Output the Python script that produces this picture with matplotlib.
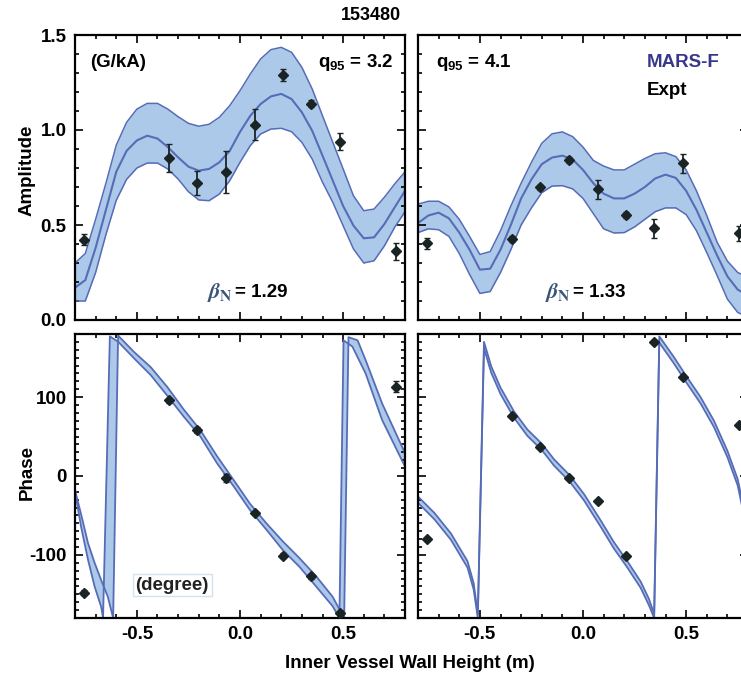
import matplotlib
matplotlib.use("Agg")
import matplotlib.pyplot as plt
from matplotlib.ticker import MultipleLocator
import numpy as np

plt.rcParams['font.family'] = ['Liberation Sans', 'DejaVu Sans']
plt.rcParams['font.weight'] = 'bold'
plt.rcParams['axes.unicode_minus'] = False
plt.rcParams['mathtext.fontset'] = 'custom'
plt.rcParams['mathtext.rm'] = 'Liberation Sans:bold'
plt.rcParams['mathtext.bf'] = 'Liberation Sans:bold'

# ---- data ----
shot = "153480"

# magnetic probe positions on the inner vessel wall (m)
z_probe = [-0.755, -0.343, -0.207, -0.068, 0.072, 0.208, 0.345, 0.483, 0.755]

# measured response, q95 = 3.2 (left) and q95 = 4.1 (right)
amp_q32 = [0.423, 0.853, 0.721, 0.777, 1.028, 1.289, 1.139, 0.939, 0.361]
amp_err_q32 = [0.03, 0.075, 0.063, 0.11, 0.083, 0.03, 0.02, 0.045, 0.045]
amp_q41 = [0.403, 0.426, 0.698, 0.842, 0.689, 0.551, 0.482, 0.825, 0.456]
amp_err_q41 = [0.03, 0.015, 0.015, 0.015, 0.05, 0.015, 0.05, 0.05, 0.04]
phase_q32 = [-148, 96, 58, -2, -47, -101, -127, -174, 113]
phase_err_q32 = [3, 3, 4, 5, 3, 3, 3, 3, 7]
phase_q41 = [-80, 76, 37, -2, -32, -102, 170, 126, 65]
phase_err_q41 = [2, 2, 2, 2, 2, 2, 2, 2, 2]

# MARS-F amplitude band
z_model = [-0.80, -0.75, -0.70, -0.65, -0.60, -0.55, -0.50, -0.45, -0.40, -0.35,
           -0.30, -0.25, -0.20, -0.15, -0.10, -0.05, 0.00, 0.05, 0.10, 0.15,
           0.20, 0.25, 0.30, 0.35, 0.40, 0.45, 0.50, 0.55, 0.60, 0.65,
           0.70, 0.75, 0.80]
mars_q32 = [0.17, 0.21, 0.38, 0.58, 0.78, 0.89, 0.945, 0.97, 0.955, 0.91,
            0.856, 0.807, 0.786, 0.795, 0.83, 0.89, 0.99, 1.075, 1.137, 1.177,
            1.19, 1.163, 1.093, 0.996, 0.865, 0.733, 0.60, 0.497, 0.43, 0.435,
            0.505, 0.593, 0.68]
mars_q32_hi = [0.30, 0.35, 0.53, 0.72, 0.92, 1.04, 1.11, 1.14, 1.14, 1.11,
               1.07, 1.035, 1.02, 1.03, 1.067, 1.128, 1.207, 1.295, 1.374, 1.423,
               1.435, 1.409, 1.33, 1.216, 1.075, 0.935, 0.795, 0.654, 0.575, 0.584,
               0.646, 0.716, 0.78]
mars_q32_lo = [0.10, 0.10, 0.25, 0.45, 0.63, 0.74, 0.80, 0.826, 0.826, 0.795,
               0.742, 0.675, 0.632, 0.628, 0.663, 0.733, 0.83, 0.918, 0.979, 1.005,
               1.009, 0.991, 0.935, 0.847, 0.725, 0.619, 0.496, 0.374, 0.30, 0.312,
               0.39, 0.488, 0.57]
mars_q41 = [0.51, 0.55, 0.565, 0.535, 0.46, 0.37, 0.265, 0.27, 0.37, 0.50,
            0.64, 0.74, 0.82, 0.855, 0.865, 0.845, 0.79, 0.72, 0.665, 0.64,
            0.64, 0.665, 0.70, 0.745, 0.765, 0.748, 0.68, 0.58, 0.46, 0.34,
            0.23, 0.16, 0.13]
mars_q41_hi = [0.61, 0.625, 0.625, 0.595, 0.53, 0.44, 0.345, 0.36, 0.47, 0.60,
               0.72, 0.83, 0.93, 0.98, 0.99, 0.965, 0.91, 0.84, 0.81, 0.79,
               0.79, 0.82, 0.85, 0.875, 0.88, 0.86, 0.79, 0.68, 0.55, 0.41,
               0.31, 0.25, 0.225]
mars_q41_lo = [0.46, 0.48, 0.475, 0.44, 0.35, 0.24, 0.14, 0.15, 0.25, 0.37,
               0.50, 0.59, 0.67, 0.705, 0.707, 0.69, 0.64, 0.56, 0.48, 0.458,
               0.46, 0.49, 0.53, 0.57, 0.59, 0.59, 0.555, 0.47, 0.355, 0.235,
               0.11, 0.04, 0.015]

# MARS-F phase band edges (wrapped to +-180 deg)
z_ph32_lo = [-0.80, -0.77, -0.737, -0.705, -0.673, -0.664, -0.631, -0.59, -0.513, -0.433,
             -0.353, -0.272, -0.192, -0.111, -0.031, 0.048, 0.128, 0.208, 0.288, 0.369,
             0.449, 0.482, 0.502, 0.545, 0.609, 0.689, 0.80]
ph32_lo = [-20, -65, -106, -140, -166, -180, 177, 170, 149, 128,
           102, 75, 50, 16, -13, -43, -68, -94, -115, -140,
           -165, -180, 172, 164, 130, 71, 12]
z_ph32_hi = [-0.80, -0.77, -0.737, -0.705, -0.673, -0.641, -0.615, -0.591, -0.513, -0.433,
             -0.353, -0.272, -0.192, -0.111, -0.031, 0.048, 0.128, 0.208, 0.288, 0.369,
             0.449, 0.505, 0.526, 0.570, 0.609, 0.689, 0.80]
ph32_hi = [-18, -49, -85, -110, -132, -153, -180, 178, 157, 138,
           113, 84, 58, 25, -5, -35, -60, -83, -104, -127,
           -153, -180, 176, 172, 147, 92, 29]
z_ph41 = [-0.80, -0.72, -0.64, -0.56, -0.53, -0.51, -0.48, -0.445, -0.40, -0.335,
          -0.27, -0.20, -0.14, -0.065, 0.005, 0.085, 0.15, 0.215, 0.28, 0.32,
          0.345, 0.37, 0.44, 0.505, 0.57, 0.635, 0.70, 0.75, 0.80]
ph41_hi = [-26, -47, -73, -108, -136, -175, 170, 139, 112, 82,
           59, 41, 21, 1, -23, -56, -84, -108, -134, -156,
           -175, 177, 151, 125, 100, 70, 32, -4, -66]
ph41_lo = [-34, -55, -81, -116, -144, -180, 162, 131, 104, 74,
           51, 33, 13, -7, -31, -64, -92, -116, -142, -164,
           -180, 169, 143, 117, 92, 62, 24, -12, -74]

# ---- style ----
fill_c = '#adc9ea'
line_c = '#566cb6'
pt_c = '#1b2424'
fs = 13.5

W, H = 741, 679
fig = plt.figure(figsize=(W / 100, H / 100), dpi=100)


def box(left, top, right, bottom):
    return [left / W, 1 - bottom / H, (right - left) / W, (bottom - top) / H]


ax_tl = fig.add_axes(box(75, 35, 405, 320))
ax_tr = fig.add_axes(box(418, 35, 748, 320))
ax_bl = fig.add_axes(box(75, 334, 405, 618))
ax_br = fig.add_axes(box(418, 334, 748, 618))

for ax in (ax_tl, ax_tr, ax_bl, ax_br):
    ax.set_xlim(-0.8, 0.8)
    ax.xaxis.set_major_locator(MultipleLocator(0.5))
    ax.xaxis.set_minor_locator(MultipleLocator(0.1))
    ax.tick_params(which='both', direction='in', top=True, right=True,
                   width=1.2, labelsize=fs, pad=6)
    ax.tick_params(which='major', length=6)
    ax.tick_params(which='minor', length=3)
    for s in ax.spines.values():
        s.set_linewidth(1.6)

# amplitude panels
for ax, c, hi, lo, amp, err in ((ax_tl, mars_q32, mars_q32_hi, mars_q32_lo, amp_q32, amp_err_q32),
                                (ax_tr, mars_q41, mars_q41_hi, mars_q41_lo, amp_q41, amp_err_q41)):
    ax.fill_between(z_model, lo, hi, color=fill_c, lw=0, zorder=1)
    ax.plot(z_model, hi, color=line_c, lw=1.1, zorder=2)
    ax.plot(z_model, lo, color=line_c, lw=1.1, zorder=2)
    ax.plot(z_model, c, color=line_c, lw=1.5, zorder=2)
    ax.errorbar(z_probe, amp, yerr=err, fmt='D', ms=5, color=pt_c, ecolor=pt_c,
                elinewidth=1.3, capsize=2, capthick=1, zorder=5)
    ax.set_ylim(0, 1.5)
    ax.yaxis.set_major_locator(MultipleLocator(0.5))
    ax.yaxis.set_minor_locator(MultipleLocator(0.1))
    ax.tick_params(labelbottom=False)

ax_tr.tick_params(labelleft=False)


def phase_band(ax, z1, p1, z2, p2):
    xs = np.concatenate([z1, z2[::-1]])
    ys = np.concatenate([p1, p2[::-1]])
    ax.fill(xs, ys, color=fill_c, lw=0, zorder=1)
    ax.plot(z1, p1, color=line_c, lw=1.3, zorder=2)
    ax.plot(z2, p2, color=line_c, lw=1.3, zorder=2)


phase_band(ax_bl, z_ph32_lo, ph32_lo, z_ph32_hi, ph32_hi)
phase_band(ax_br, z_ph41, ph41_lo, z_ph41, ph41_hi)

for ax, ph, err in ((ax_bl, phase_q32, phase_err_q32), (ax_br, phase_q41, phase_err_q41)):
    ax.errorbar(z_probe, ph, yerr=err, fmt='D', ms=5, color=pt_c, ecolor=pt_c,
                elinewidth=1.3, capsize=2, capthick=1, zorder=5)
    ax.set_ylim(-180, 180)
    ax.yaxis.set_major_locator(MultipleLocator(100))
    ax.yaxis.set_minor_locator(MultipleLocator(10))

ax_br.tick_params(labelleft=False)

# annotations
ax_tl.text(0.045, 0.902, "(G/kA)", transform=ax_tl.transAxes, ha='left', va='center', fontsize=fs)
ax_tl.text(0.964, 0.902, r"$\mathbf{q_{95}}$ = 3.2", transform=ax_tl.transAxes,
           ha='right', va='center', fontsize=fs)
ax_tr.text(0.055, 0.902, r"$\mathbf{q_{95}}$ = 4.1", transform=ax_tr.transAxes,
           ha='left', va='center', fontsize=fs)
ax_tr.text(0.694, 0.902, "MARS-F", transform=ax_tr.transAxes, ha='left', va='center',
           fontsize=fs, color='#38388a')
ax_tr.text(0.694, 0.807, "Expt", transform=ax_tr.transAxes, ha='left', va='center',
           fontsize=fs, color='black')

for ax, xs, val in ((ax_tl, 0.479, "1.29"), (ax_tr, 0.464, "1.33")):
    ax.text(xs, 0.095, r"$\beta_{\rm N}$", transform=ax.transAxes, ha='right', va='center',
            fontsize=16, color='#3a5578', math_fontfamily='stix', fontweight='normal')
    ax.text(xs + 0.005, 0.095, "= " + val, transform=ax.transAxes, ha='left', va='center',
            fontsize=fs)

ax_bl.text(0.294, 0.116, "(degree)", transform=ax_bl.transAxes, ha='center', va='center',
           fontsize=fs, color='#222222',
           bbox=dict(boxstyle='square,pad=0.15', fc='white', ec='#d6e1ee', lw=1))

fig.text(371 / W, 1 - 16 / H, shot, ha='center', va='center', fontsize=13)
fig.text(27 / W, 1 - 170 / H, "Amplitude", rotation=90, ha='center', va='center', fontsize=fs)
fig.text(27 / W, 1 - 473 / H, "Phase", rotation=90, ha='center', va='center', fontsize=fs)
fig.text(410 / W, 1 - 663 / H, "Inner Vessel Wall Height (m)", ha='center', va='center', fontsize=fs)

fig.savefig("out.png", dpi=100)
